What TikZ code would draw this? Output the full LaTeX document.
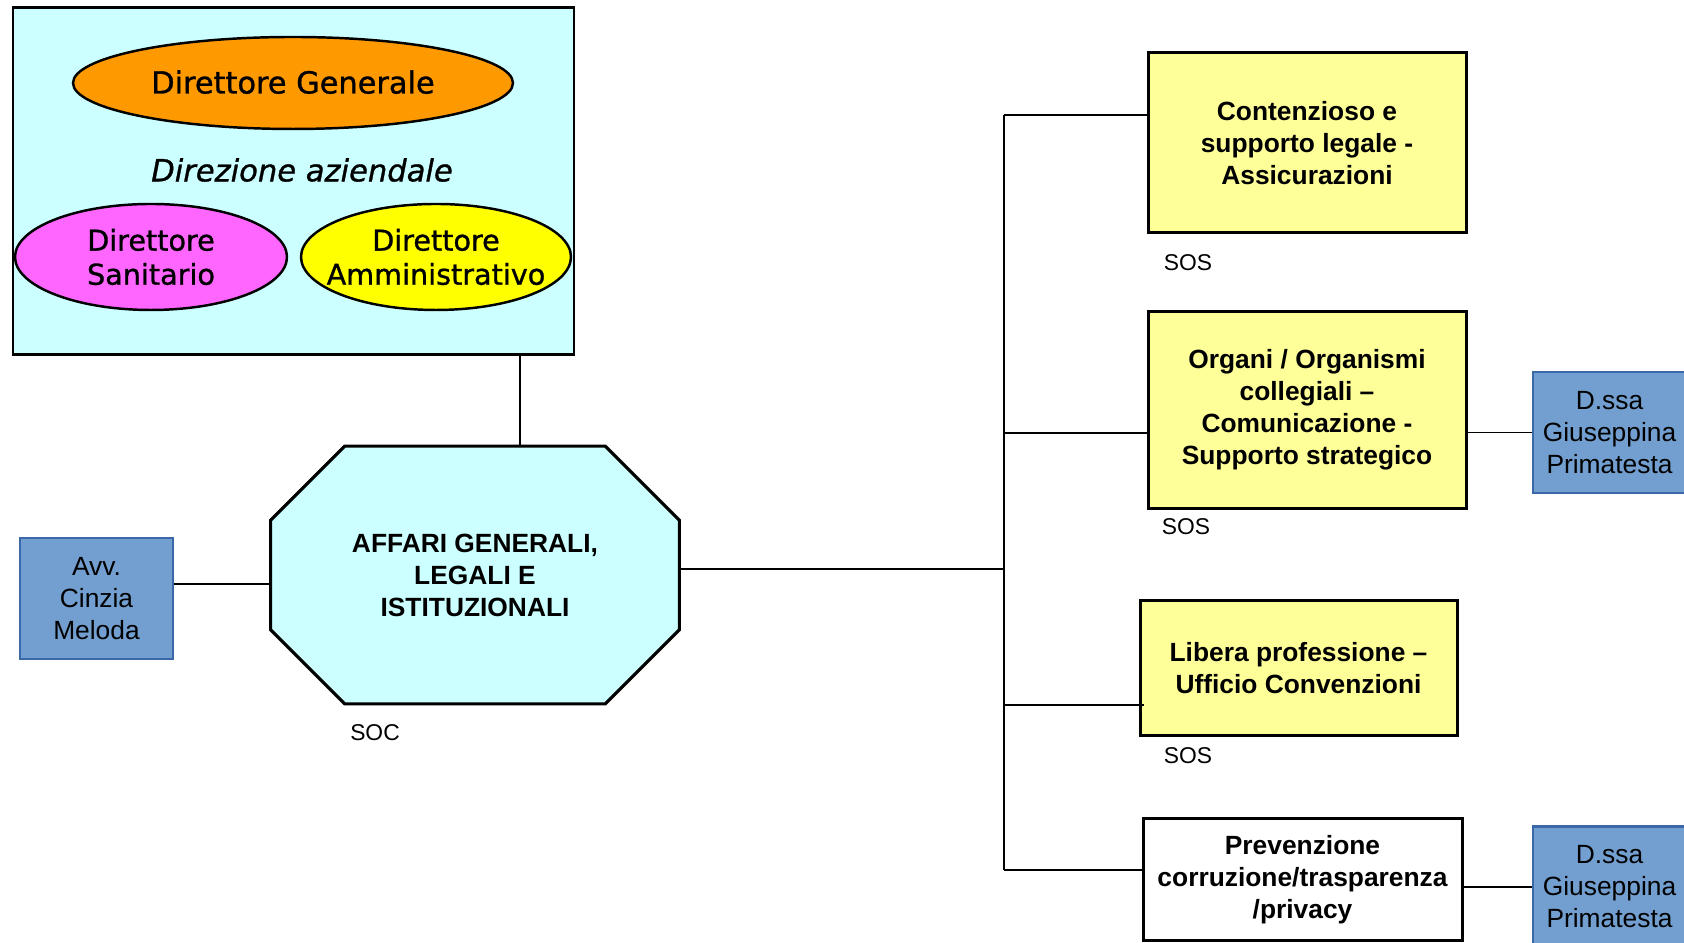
\documentclass[tikz,border=0pt]{standalone}
\usepackage{fontspec}
\setmainfont{Liberation Sans}
\newfontfamily\dirfont[FakeBold=1]{DejaVu Sans}
\usetikzlibrary{shapes.geometric}

\definecolor{cyanlight}{RGB}{204,255,255}
\definecolor{dgorange}{RGB}{255,153,0}
\definecolor{dsmagenta}{RGB}{255,102,255}
\definecolor{dayellow}{RGB}{255,255,0}
\definecolor{sosyellow}{RGB}{255,255,153}
\definecolor{personblue}{RGB}{114,159,207}
\definecolor{personborder}{RGB}{58,104,168}

\begin{document}
\begin{tikzpicture}[
    director/.style={draw,ellipse,line width=1.4pt,inner xsep=-1cm,inner ysep=-0.3cm,align=center,
        font=\dirfont\fontsize{16.3}{19.4}\selectfont},
    unit/.style={draw,rectangle,line width=1.7pt,fill=sosyellow,align=center,
        font=\bfseries\fontsize{15}{18.2}\selectfont},
    person/.style={draw=personborder,rectangle,line width=1.4pt,fill=personblue,
        minimum width=3.06cm,minimum height=2.42cm,align=center,
        font=\fontsize{15}{18.2}\selectfont},
    level/.style={font=\fontsize{13}{15}\selectfont},
    link/.style={line width=1.1pt}
]
        \useasboundingbox (0,0) rectangle (33.68,18.86);

        % nodes
        \node [draw,rectangle,line width=1.7pt,fill=cyanlight,
               minimum width=11.22cm,minimum height=6.95cm] (dir) at (5.87, 15.24) {};
        \node [director,fill=dgorange,minimum width=8.8cm,minimum height=1.84cm,
               font=\dirfont\fontsize{17.3}{19.4}\selectfont] (dg) at (5.86, 17.2) {\raisebox{1.2pt}{Direttore Generale}};
        \node [font=\dirfont\itshape\fontsize{17.4}{19.4}\selectfont] (diraz) at (6.04, 15.46) {Direzione aziendale};
        \node [director,fill=dsmagenta,minimum width=5.44cm,minimum height=2.12cm] (ds) at (3.02, 13.72) {Direttore\\Sanitario};
        \node [director,fill=dayellow,minimum width=5.4cm,minimum height=2.12cm] (da) at (8.72, 13.72) {Direttore\\Amministrativo};

        % octagon
        \node [minimum width=8.16cm,minimum height=5.14cm] (agli) at (9.5, 7.36) {};
        \filldraw [line width=1.8pt,fill=cyanlight,line join=miter]
            ([xshift=1.48cm]agli.north west) -- ([xshift=-1.48cm]agli.north east)
            -- ([yshift=-1.48cm]agli.north east) -- ([yshift=1.48cm]agli.south east)
            -- ([xshift=-1.48cm]agli.south east) -- ([xshift=1.48cm]agli.south west)
            -- ([yshift=1.48cm]agli.south west) -- ([yshift=-1.48cm]agli.north west) -- cycle;
        \node [align=center,font=\bfseries\fontsize{15}{18.2}\selectfont] (agli text) at (agli) {AFFARI GENERALI,\\LEGALI E\\ISTITUZIONALI};
        \node [level] (soc) at (7.5, 4.2) {SOC};
        \node [person] (avv) at (1.93, 6.89) {Avv.\\Cinzia\\Meloda};

        \coordinate (trunk top) at (20.08, 16.56);
        \coordinate (b2) at (20.08, 10.2);
        \coordinate (b3) at (20.08, 4.76);
        \coordinate (trunk bottom) at (20.08, 1.46);

        \node [unit,minimum width=6.36cm,minimum height=3.6cm] (cont) at (26.14, 16.0) {Contenzioso e\\supporto legale -\\Assicurazioni};
        \node [level] (sos1) at (23.76, 13.6) {SOS};
        \node [unit,minimum width=6.36cm,minimum height=3.94cm] (org) at (26.14, 10.66) {Organi / Organismi\\collegiali --\\Comunicazione -\\Supporto strategico};
        \node [level] (sos2) at (23.72, 8.32) {SOS};
        \node [unit,minimum width=6.34cm,minimum height=2.7cm] (lib) at (25.97, 5.49) {Libera professione --\\Ufficio Convenzioni};
        \node [level] (sos3) at (23.76, 3.74) {SOS};
        \node [unit,fill=white,minimum width=6.38cm,minimum height=2.44cm] (prev) at (26.05, 1.26) {Prevenzione\\corruzione/trasparenza\\/privacy};

        \node [person] (dssa1) at (32.19, 10.21) {D.ssa\\Giuseppina\\Primatesta};
        \node [person] (dssa2) at (32.19, 1.12) {D.ssa\\Giuseppina\\Primatesta};

        % lines
        \draw [link] ([xshift=0.9cm]agli.north) -- ([xshift=0.9cm]agli.north |- dir.south);
        \draw [link] ([yshift=0.29cm]avv.east) -- ([yshift=0.29cm]avv.east -| agli.west);
        \draw [link] ([yshift=0.12cm]agli.east) -- ([yshift=0.12cm]agli.east -| trunk top);
        \draw [link] (trunk top) -- (trunk bottom);
        \draw [link] (trunk top) -- (trunk top -| cont.west);
        \draw [link] (b2) -- (b2 -| org.west);
        \draw [link] (b3) -- ([xshift=0.1cm]b3 -| lib.west);
        \draw [link] (trunk bottom) -- (trunk bottom -| prev.west);
        \draw [link] (org.east |- dssa1.west) -- (dssa1.west);
        \draw [link] (prev.east |- dssa2.west) -- (dssa2.west);
    \end{tikzpicture}
\end{document}
